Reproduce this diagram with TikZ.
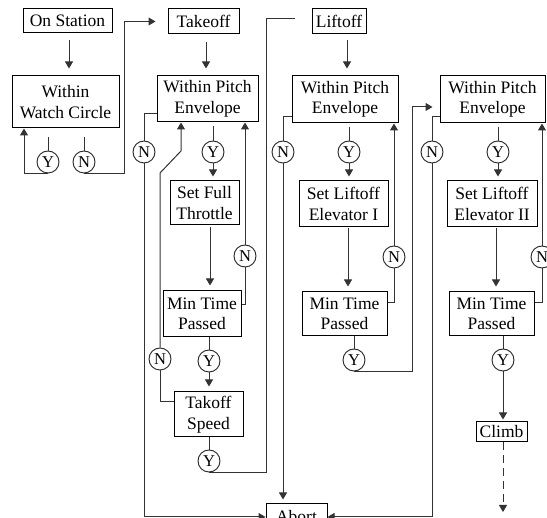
\documentclass[tikz,border=0pt]{standalone}
\usepackage{fontspec}
\setmainfont{Liberation Serif}
\usetikzlibrary{arrows.meta,calc}
\begin{document}
\begin{tikzpicture}[x=1pt,y=-1pt,
 box/.style={draw=black,line width=1pt,align=center,inner sep=0pt,font=\fontsize{17.5}{20.5}\selectfont},
 yn/.style={draw=black!85,circle,line width=0.9pt,minimum size=22pt,inner sep=0pt,font=\fontsize{16.5}{16.5}\selectfont},
 con/.style={draw=black!80,line width=1pt},
 arr/.style={con,-{Triangle[width=8pt,length=7pt]}}]
\fill[white] (0,0) rectangle (547,518);
\useasboundingbox (0,0) rectangle (547,518);
% boxes
\node[box,minimum width=89pt,minimum height=24pt] (OS) at (67.5,21) {On Station};
\node[box,minimum width=107pt,minimum height=52pt] (WWC) at (65.5,102) {Within\\Watch Circle};
\node[box,minimum width=71pt,minimum height=25pt] (TO) at (203.5,21.5) {Takeoff};
\node[box,minimum width=101pt,minimum height=46pt] (WPE1) at (207.5,99) {Within Pitch\\Envelope};
\node[box,minimum width=69pt,minimum height=44pt] (SF) at (204.5,203) {Set Full\\Throttle};
\node[box,minimum width=78pt,minimum height=46pt] (MT1) at (202,314) {Min Time\\Passed};
\node[box,minimum width=69pt,minimum height=45pt] (TS) at (208.5,414.5) {Takoff\\Speed};
\node[box,minimum width=54pt,minimum height=25pt] (LO) at (339,21.5) {Liftoff};
\node[box,minimum width=106pt,minimum height=47pt] (WPE2) at (345,99.5) {Within Pitch\\Envelope};
\node[box,minimum width=89pt,minimum height=46pt] (SL1) at (343.5,204) {Set Liftoff\\Elevator I};
\node[box,minimum width=85pt,minimum height=44pt] (MT2) at (344.5,314) {Min Time\\Passed};
\node[box,minimum width=105pt,minimum height=47pt] (WPE3) at (492.5,99.5) {Within Pitch\\Envelope};
\node[box,minimum width=90pt,minimum height=46pt] (SL2) at (492,204) {Set Liftoff\\Elevator II};
\node[box,minimum width=85pt,minimum height=44pt] (MT3) at (491.5,314) {Min Time\\Passed};
\node[box,minimum width=51pt,minimum height=20pt] (CL) at (501.5,432) {Climb};
\node[box,minimum width=61pt,minimum height=26pt] (AB) at (296.5,517) {Abort};
% decision circles
\node[yn] (Y0) at (48,162) {Y};
\node[yn] (N0) at (84,162) {N};
\node[yn] (N1) at (144,152) {N};
\node[yn] (Y1) at (213,152) {Y};
\node[yn] (Nmt1) at (245,256) {N};
\node[yn] (Ymt1) at (209,361) {Y};
\node[yn] (Nts) at (160,359) {N};
\node[yn] (Yts) at (209,461) {Y};
\node[yn] (N2) at (283,152) {N};
\node[yn] (Y2) at (349,152) {Y};
\node[yn] (Nmt2) at (394,257) {N};
\node[yn] (Ymt2) at (354,360) {Y};
\node[yn] (N3) at (432,152) {N};
\node[yn] (Y3) at (498,152) {Y};
\node[yn] (Nmt3) at (542,257) {N};
\node[yn] (Ymt3) at (503,360) {Y};
% helper coordinates
\coordinate (xa) at (69,0);
\coordinate (yl) at (24,0);
\coordinate (nl) at (124,0);
\coordinate (xb) at (206,0);
\coordinate (xc) at (210,0);
\coordinate (d1) at (160,173);
\coordinate (d2) at (181,151);
\coordinate (xe) at (266,0);
\coordinate (lin) at (295,19);
\coordinate (xf) at (347,0);
\coordinate (xs1) at (348,0);
\coordinate (xg) at (412,0);
\coordinate (w3in) at ($(WPE3.west)+(0,7.5)$);
\coordinate (xs2) at (496,0);
\coordinate (cend) at (503,512);
% column 1
\draw[arr,shorten <=7pt,shorten >=7pt] (xa |- OS.south) -- (xa |- WWC.north);
\draw[con,shorten <=9pt] (Y0 |- WWC.south) -- (Y0.north);
\draw[con,shorten <=9pt] (N0 |- WWC.south) -- (N0.north);
\draw[arr] (Y0.south) -| (yl |- WWC.south);
\draw[arr,shorten >=12pt] (N0.south) -| (nl |- TO.west) -- (TO.west);
% column 2
\draw[arr,shorten <=8pt,shorten >=7pt] (xb |- TO.south) -- (xb |- WPE1.north);
\draw[con,shorten <=4pt] (Y1 |- WPE1.south) -- (Y1.north);
\draw[arr,shorten >=4pt] (Y1.south) -- (Y1 |- SF.north);
\draw[con] ($(WPE1.west)+(0,15)$) -| (N1.north);
\draw[arr] (N1.south) |- (AB.west);
\draw[arr,shorten <=2pt,shorten >=5pt] (xc |- SF.south) -- (xc |- MT1.north);
\draw[con] ($(MT1.east)+(0,-9)$) -| (Nmt1.south);
\draw[arr] (Nmt1.north) -- (Nmt1 |- WPE1.south);
\draw[con] (Ymt1 |- MT1.south) -- (Ymt1.north);
\draw[arr,shorten >=5pt] (Ymt1.south) -- (Ymt1 |- TS.north);
\draw[con] ($(TS.west)+(0,-12.5)$) -| (Nts.south);
\draw[arr] (Nts.north) -- (d1) -- (d2) -- (d2 |- WPE1.south);
\draw[con] (Yts |- TS.south) -- (Yts.north);
\draw[con] (Yts.south) -| (xe |- lin) -- (lin);
% column 3
\draw[arr,shorten <=6pt,shorten >=7pt] (xf |- LO.south) -- (xf |- WPE2.north);
\draw[con,shorten <=4pt] (Y2 |- WPE2.south) -- (Y2.north);
\draw[arr,shorten >=4pt] (Y2.south) -- (Y2 |- SL1.north);
\draw[con] ($(WPE2.west)+(0,17.5)$) -| (N2.north);
\draw[arr,shorten >=4pt] (N2.south) -- (N2 |- AB.north);
\draw[arr,shorten <=1pt,shorten >=5pt] (xs1 |- SL1.south) -- (xs1 |- MT2.north);
\draw[con] ($(MT2.east)+(0,-11)$) -| (Nmt2.south);
\draw[arr] (Nmt2.north) -- (Nmt2 |- WPE2.south);
\draw[con] (Ymt2 |- MT2.south) -- (Ymt2.north);
\draw[arr,shorten >=7pt] (Ymt2.south) -| (xg |- w3in) -- (w3in);
% column 4
\draw[con,shorten <=4pt] (Y3 |- WPE3.south) -- (Y3.north);
\draw[arr,shorten >=4pt] (Y3.south) -- (Y3 |- SL2.north);
\draw[con] ($(WPE3.west)+(0,17.5)$) -| (N3.north);
\draw[arr] (N3.south) |- (AB.east);
\draw[arr,shorten <=1pt,shorten >=5pt] (xs2 |- SL2.south) -- (xs2 |- MT3.north);
\draw[con] ($(MT3.east)+(0,-11)$) -| (Nmt3.south);
\draw[arr] (Nmt3.north) -- (Nmt3 |- WPE3.south);
\draw[con] (Ymt3 |- MT3.south) -- (Ymt3.north);
\draw[arr,shorten >=2pt] (Ymt3.south) -- (Ymt3 |- CL.north);
\draw[arr,dash pattern=on 8pt off 5pt] (Ymt3 |- CL.south) -- (cend);
\end{tikzpicture}
\end{document}
